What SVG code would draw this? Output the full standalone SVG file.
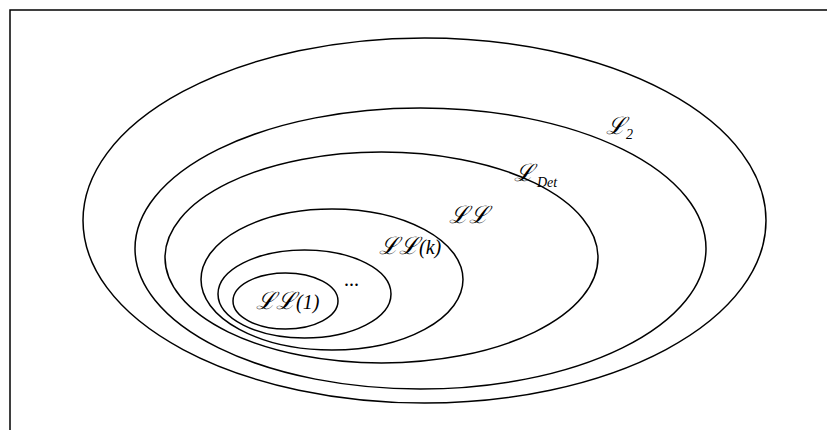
<svg xmlns="http://www.w3.org/2000/svg" width="827" height="430" viewBox="0 0 827 430">
<style>
.e{fill:none;stroke:#000;stroke-width:1.5}
.t{font-family:"Liberation Serif","DejaVu Serif",serif;font-style:italic;font-size:20px;fill:#000}
.L{font-size:24px}
.s{font-size:14px}
</style>
<rect width="827" height="430" fill="#fff"/>
<path d="M10,430 V10 H827" fill="none" stroke="#000" stroke-width="1.5"/>
<g id="L2"><ellipse class="e" cx="424.5" cy="220.5" rx="341.5" ry="182.5"/><text class="t" x="606" y="134"><tspan class="L">ℒ</tspan><tspan class="s" dy="5">2</tspan></text></g>
<g id="LDet"><ellipse class="e" cx="420.5" cy="248.5" rx="285.5" ry="140.5"/><text class="t" x="514" y="181"><tspan class="L">ℒ</tspan><tspan class="s" dx="3" dy="6">Det</tspan></text></g>
<g id="LL"><ellipse class="e" cx="381.5" cy="257.5" rx="216.5" ry="105.5"/><text class="t" x="449" y="223"><tspan class="L">ℒℒ</tspan></text></g>
<g id="LLk"><ellipse class="e" cx="332" cy="279.5" rx="131" ry="70.5"/><text class="t" x="379" y="254"><tspan class="L">ℒℒ</tspan>(k)</text></g>
<g id="dots"><ellipse class="e" cx="304.5" cy="294" rx="86.5" ry="44"/><text class="t" x="344" y="286" style="font-style:normal">...</text></g>
<g id="LL1"><ellipse class="e" cx="285.5" cy="301" rx="52.5" ry="28"/><text class="t" x="256" y="309"><tspan class="L">ℒℒ</tspan>(1)</text></g>
<g id="connectors"></g>
</svg>
